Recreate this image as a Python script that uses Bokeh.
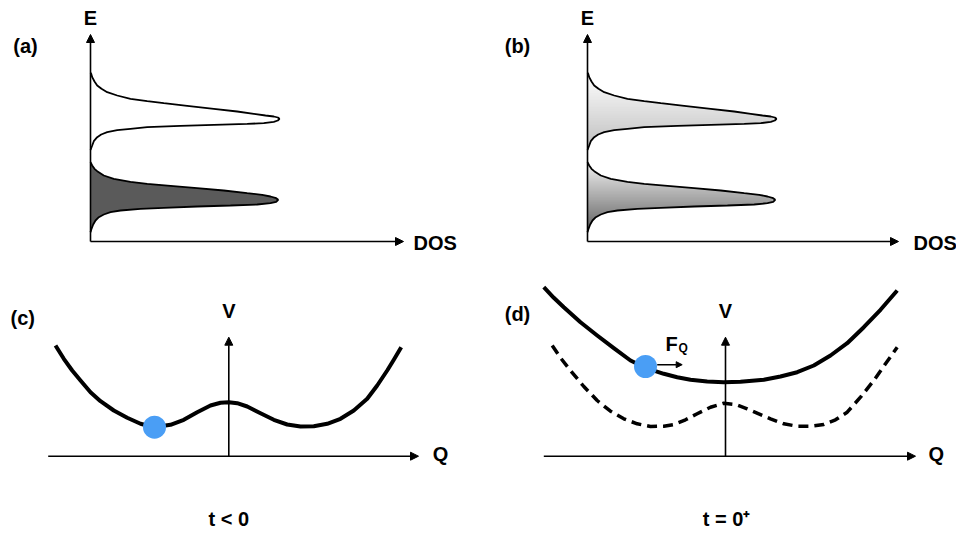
import numpy as np
from bokeh.plotting import figure
from bokeh.layouts import gridplot
from bokeh.models import Arrow, NormalHead, Label, Range1d
from bokeh.embed import file_html
from bokeh.resources import INLINE

# ---------------- data (arbitrary units) ----------------
# DOS peak profiles: density of states vs energy (upper band and lower band)
upper_dos = [0, 0.7, 1.7, 4, 6.7, 11, 16.7, 26.7, 40, 56.7, 73.3, 96.7, 123.3, 146.7, 163.3, 175,
             183.3, 187.3, 189, 187.3, 183.3, 173.3, 156.7, 123.3, 90, 56.7, 40, 26.7, 16.7, 10.7,
             6.7, 3.3, 1.7, 0]
upper_e = [168.7, 167.7, 164.3, 160, 156, 152.7, 149.3, 146, 142.7, 140.3, 138.3, 135.7, 132.7, 130,
           127.7, 126, 125, 124, 122.7, 121, 119.7, 118.3, 117.7, 116.7, 115.7, 114.3, 112.7, 111.3,
           109.3, 107, 104.3, 100.3, 96, 91.7]
lower_dos = [0, 1.7, 4, 6.7, 13.3, 23.3, 40, 56.7, 80, 106.7, 133.3, 156.7, 171.7, 180, 185.7, 187.7,
             185.7, 180, 166.7, 140, 106.7, 73.3, 50, 30, 20, 13.3, 8.3, 5, 2.7, 1, 0]
lower_e = [79.3, 76, 72.7, 70.3, 66, 62.7, 59.7, 57.7, 55.7, 53.3, 51, 48.3, 46.7, 45, 43.3, 41.7,
           39.7, 38.3, 37, 36, 35, 33.7, 32.7, 31, 29.3, 27, 24.3, 21, 17, 12.7, 9.3]

# double-well potential V(Q) at t < 0 (panel c)
q_well = [-173.3, -165, -156.6, -148.3, -138.3, -128.3, -115, -101.6, -88.3, -75, -58.3, -45, -31.6,
          -18.3, -8.3, 0, 8.4, 18.4, 31.7, 45, 58.4, 71.7, 85, 98.4, 111.7, 125, 138.4, 148.4, 158.4,
          165, 172.4]
v_well = [110.7, 97.4, 85.7, 75.7, 64, 55, 45.7, 38.4, 32.4, 29, 31.4, 36.4, 44, 50.7, 53.4, 54, 53,
          49.7, 43, 36.4, 31.7, 29.7, 30, 32.4, 37.4, 45.7, 57.4, 70.7, 85.7, 96.4, 109]

# panel d: former double well (dashed) and new single well (solid)
q_well_d = [-173.3, -165, -155, -141.7, -128.3, -115, -101.7, -88.3, -75, -61.7, -51.7, -40, -28.3,
            -15, -1.7, 10, 21.7, 33.3, 45, 58.3, 71.7, 85, 98.3, 110, 121.7, 135, 148.3, 160, 171.7]
v_well_d = [110.7, 98.4, 85.7, 69.7, 55.7, 45, 37.4, 32.4, 29.7, 30, 31.7, 36.4, 42.4, 49, 53, 51.7,
            47.4, 42.4, 37.4, 32.4, 30, 30, 31.7, 36.4, 44, 59, 75.7, 92.4, 109]
q_harm = [-181.7, -171.7, -161.7, -145, -128.3, -111.7, -95, -80, -61.7, -48.3, -35, -18.3, -1.7, 15,
          38.3, 55, 71.7, 88.3, 105, 121.7, 138.3, 155, 171.7]
v_harm = [169, 158.4, 149, 134, 120.7, 108, 95.7, 88.4, 82.4, 79, 76.4, 74.7, 74, 74.4, 76.4, 79.7,
          84, 90.7, 100.7, 113, 129, 146.4, 165.7]

# positions of the system (blue ball) on the potential
ball_c = (-74.3, 29.0)
ball_d = (-80.0, 89.7)

FONT = "Liberation Sans"
BALL = "#4A9EF5"


def make_fig(w, h, xr, yr):
    p = figure(width=w, height=h, x_range=Range1d(*xr), y_range=Range1d(*yr),
               output_backend="svg", toolbar_location=None, min_border=0,
               x_axis_type=None, y_axis_type=None, outline_line_color=None,
               background_fill_color="white", border_fill_color="white")
    return p


def arrow(p, x0, y0, x1, y1, size=8, lw=1.6):
    p.add_layout(Arrow(x_start=x0, y_start=y0, x_end=x1, y_end=y1, line_width=lw,
                       line_color="black",
                       end=NormalHead(size=size, fill_color="black", line_color="black", line_width=1)))


def label(p, x, y, txt, size="20px", align="center"):
    p.add_layout(Label(x=x, y=y, text=txt, text_font=FONT, text_font_style="bold",
                       text_font_size=size, text_align=align, text_baseline="middle",
                       text_color="black"))


def hex_mix(c0, c1, t):
    a = np.array([int(c0[i:i + 2], 16) for i in (1, 3, 5)], float)
    b = np.array([int(c1[i:i + 2], 16) for i in (1, 3, 5)], float)
    c = (a + (b - a) * t).round().astype(int)
    return "#%02x%02x%02x" % tuple(c)


def gradient_fill(p, dos, e, c_top, c_bot, step=0.5):
    e_arr = np.array(e)[::-1]
    d_arr = np.array(dos)[::-1]
    grid = np.arange(e_arr.min(), e_arr.max() + step, step)
    right = np.interp(grid, e_arr, d_arr)
    t = (e_arr.max() - grid) / (e_arr.max() - e_arr.min())
    cols = [hex_mix(c_top, c_bot, ti) for ti in t]
    p.hbar(y=grid, left=0, right=right, height=step * 1.15, fill_color=cols, line_color=None)


LW_DOS = 1.8

# ---------------- panel (a) ----------------
pa = make_fig(478, 266, (-90, 388), (-25, 241))
pa.patch(lower_dos, lower_e, fill_color="#5a5a5a", line_color=None)
pa.line(upper_dos, upper_e, line_color="black", line_width=LW_DOS)
pa.line(lower_dos, lower_e, line_color="black", line_width=LW_DOS)
arrow(pa, 0, 0, 0, 207)
arrow(pa, 0, 0, 313, 0)
label(pa, -65, 196, "(a)")
label(pa, 0, 224, "E")
label(pa, 323, -1, "DOS", align="left")

# ---------------- panel (b) ----------------
pb = make_fig(478, 266, (-109, 369), (-25, 241))
gradient_fill(pb, upper_dos, upper_e, "#ffffff", "#a9a9a9")
gradient_fill(pb, lower_dos, lower_e, "#ececec", "#2c2c2c")
pb.line(upper_dos, upper_e, line_color="black", line_width=LW_DOS)
pb.line(lower_dos, lower_e, line_color="black", line_width=LW_DOS)
arrow(pb, 0, 0, 0, 207)
arrow(pb, 0, 0, 311, 0)
label(pb, -70, 196, "(b)")
label(pb, 0, 224, "E")
label(pb, 326, -1, "DOS", align="left")

# ---------------- panel (c) ----------------
pc = make_fig(478, 266, (-228.3, 249.7), (-76.3, 189.7))
arrow(pc, -180.6, 0, 189.7, 0)
arrow(pc, 0, 0, 0, 119)
pc.line(q_well, v_well, line_color="black", line_width=4, line_join="round")
pc.scatter([ball_c[0]], [ball_c[1]], size=23, fill_color=BALL, line_color=None)
label(pc, -206, 138.5, "(c)")
label(pc, 0, 145.5, "V")
label(pc, 204, 2.5, "Q", align="left")
label(pc, 0, -62.5, "t < 0")

# ---------------- panel (d) ----------------
pd_ = make_fig(478, 266, (-247, 231), (-76.3, 189.7))
arrow(pd_, -181.7, 0, 190, 0)
arrow(pd_, 0, 0, 0, 119)
pd_.line(q_well_d, v_well_d, line_color="black", line_width=3.5, line_dash="10 6", line_join="round")
pd_.line(q_harm, v_harm, line_color="black", line_width=4, line_join="round")
pd_.scatter([ball_d[0]], [ball_d[1]], size=23, fill_color=BALL, line_color=None)
arrow(pd_, -68.3, 91.5, -43.3, 91.5, size=6, lw=1.5)
label(pd_, -208, 142.5, "(d)")
label(pd_, 0, 145.5, "V")
label(pd_, 203, 2.5, "Q", align="left")
label(pd_, 1, -62.5, "t = 0\u207a")
label(pd_, -60, 112, "F", align="left")
label(pd_, -47, 108, "Q", size="12px", align="left")

grid = gridplot([[pa, pb], [pc, pd_]], toolbar_location=None)

open("out.html", "w").write(file_html(grid, INLINE))
